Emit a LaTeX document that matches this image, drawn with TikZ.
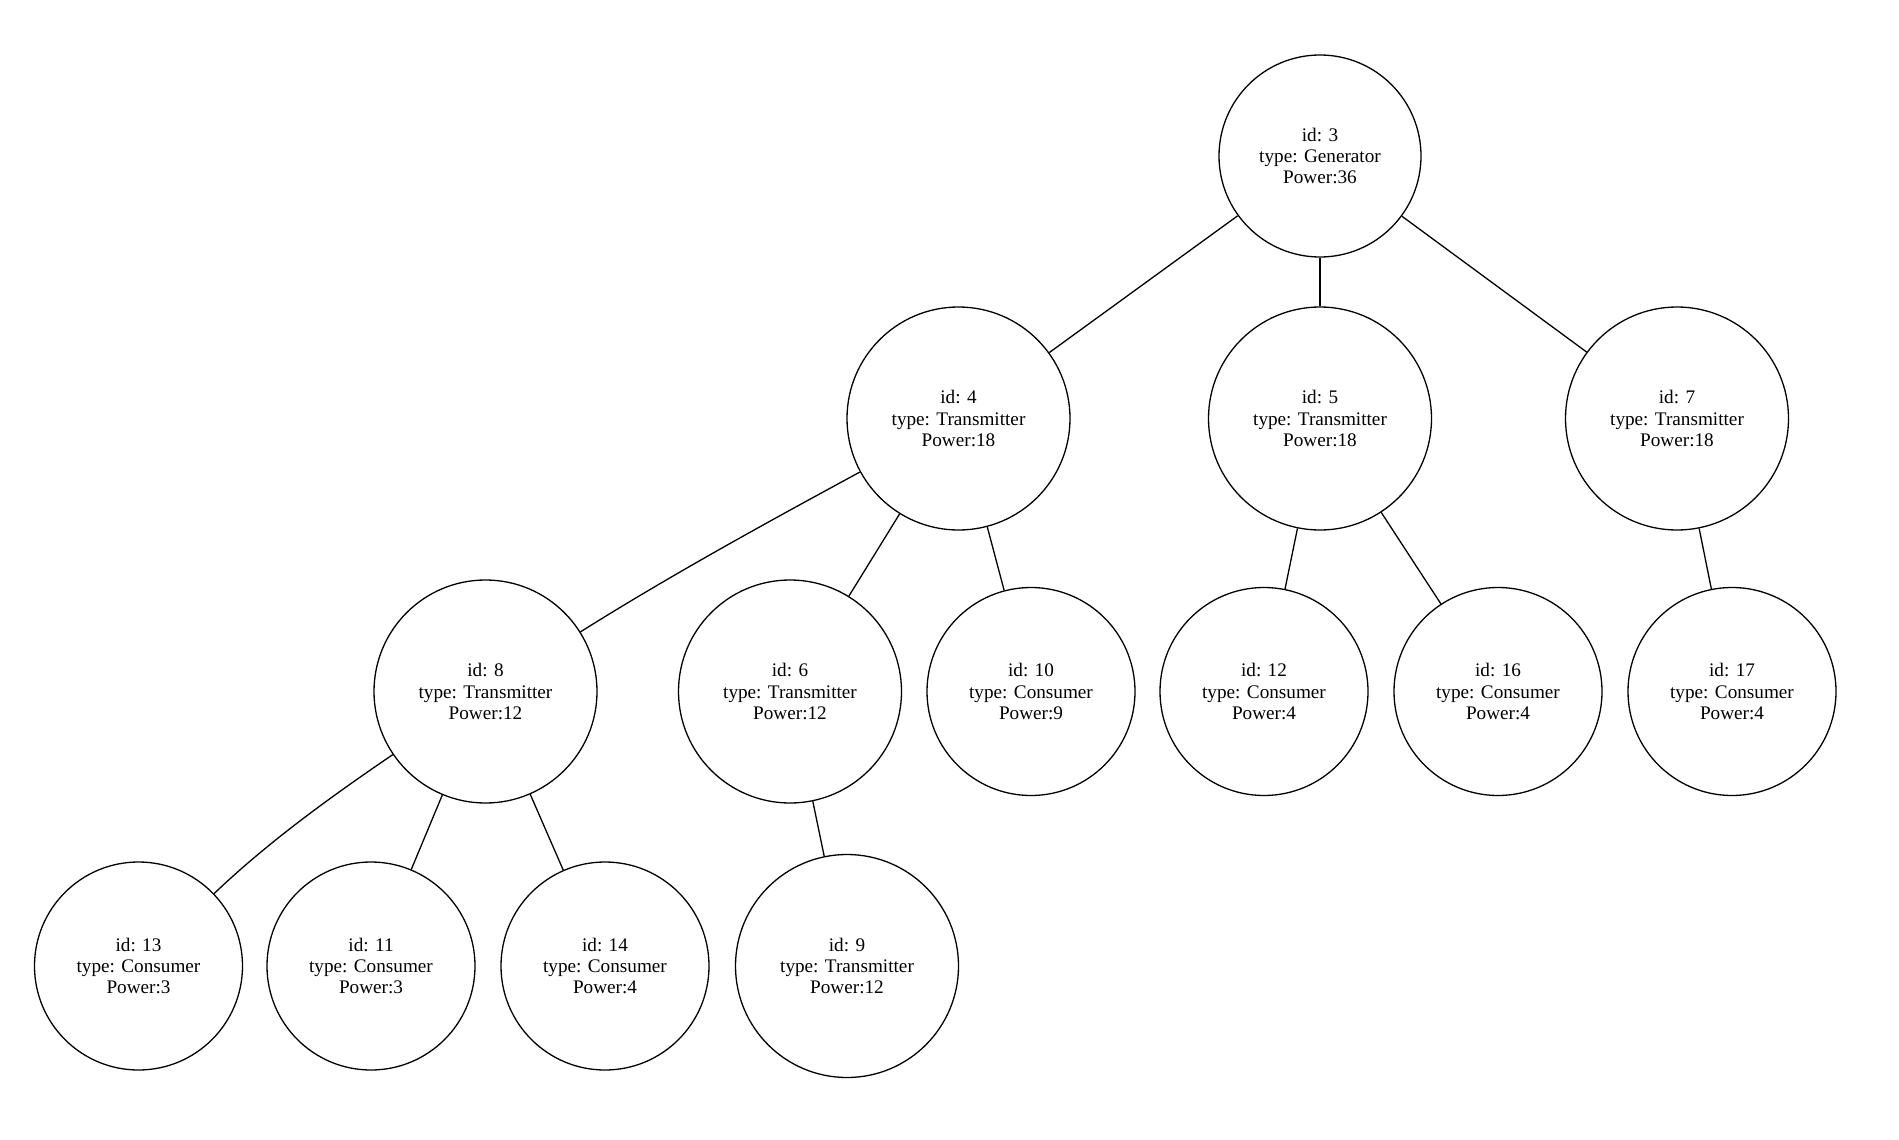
\documentclass[tikz,border=0pt]{standalone}
\usepackage{fontspec}
\setmainfont{Liberation Serif}
\begin{document}
\begin{tikzpicture}[x=1pt,y=-1pt,
  every node/.style={circle,draw,line width=1.3pt,inner sep=0pt,align=center,
    font=\fontsize{19.2}{21.3}\selectfont},
  gen/.style={minimum size=202pt},
  trans/.style={minimum size=223pt},
  cons/.style={minimum size=208pt},
  edge/.style={line width=1.3pt}]
\useasboundingbox (0,0) rectangle (1899,1140);
\node[gen]   (n3)  at (1320,156)   {id: 3\\type: Generator\\Power:36};
\node[trans] (n4)  at (958.5,418.5) {id: 4\\type: Transmitter\\Power:18};
\node[trans] (n5)  at (1320,418.5) {id: 5\\type: Transmitter\\Power:18};
\node[trans] (n7)  at (1677,418.5) {id: 7\\type: Transmitter\\Power:18};
\node[trans] (n8)  at (485.5,691.5) {id: 8\\type: Transmitter\\Power:12};
\node[trans] (n6)  at (790,691.5)  {id: 6\\type: Transmitter\\Power:12};
\node[cons]  (n10) at (1031,691.5) {id: 10\\type: Consumer\\Power:9};
\node[cons]  (n12) at (1264,691.5) {id: 12\\type: Consumer\\Power:4};
\node[cons]  (n16) at (1498,691.5) {id: 16\\type: Consumer\\Power:4};
\node[cons]  (n17) at (1732,691.5) {id: 17\\type: Consumer\\Power:4};
\node[cons]  (n13) at (138.5,966)  {id: 13\\type: Consumer\\Power:3};
\node[cons]  (n11) at (371,966)    {id: 11\\type: Consumer\\Power:3};
\node[cons]  (n14) at (605,966)    {id: 14\\type: Consumer\\Power:4};
\node[trans] (n9)  at (847,966)    {id: 9\\type: Transmitter\\Power:12};
\draw[edge] (n3) -- (n4);
\draw[edge] (n3) -- (n5);
\draw[edge] (n3) -- (n7);
\draw[edge] (n4) .. controls (766,523) and (671,575) .. (n8);
\draw[edge] (n4) -- (n6);
\draw[edge] (n4) -- (n10);
\draw[edge] (n5) -- (n12);
\draw[edge] (n5) -- (n16);
\draw[edge] (n7) -- (n17);
\draw[edge] (n8) .. controls (332,796) and (268,842) .. (n13);
\draw[edge] (n8) -- (n11);
\draw[edge] (n8) -- (n14);
\draw[edge] (n6) -- (n9);
\end{tikzpicture}
\end{document}
